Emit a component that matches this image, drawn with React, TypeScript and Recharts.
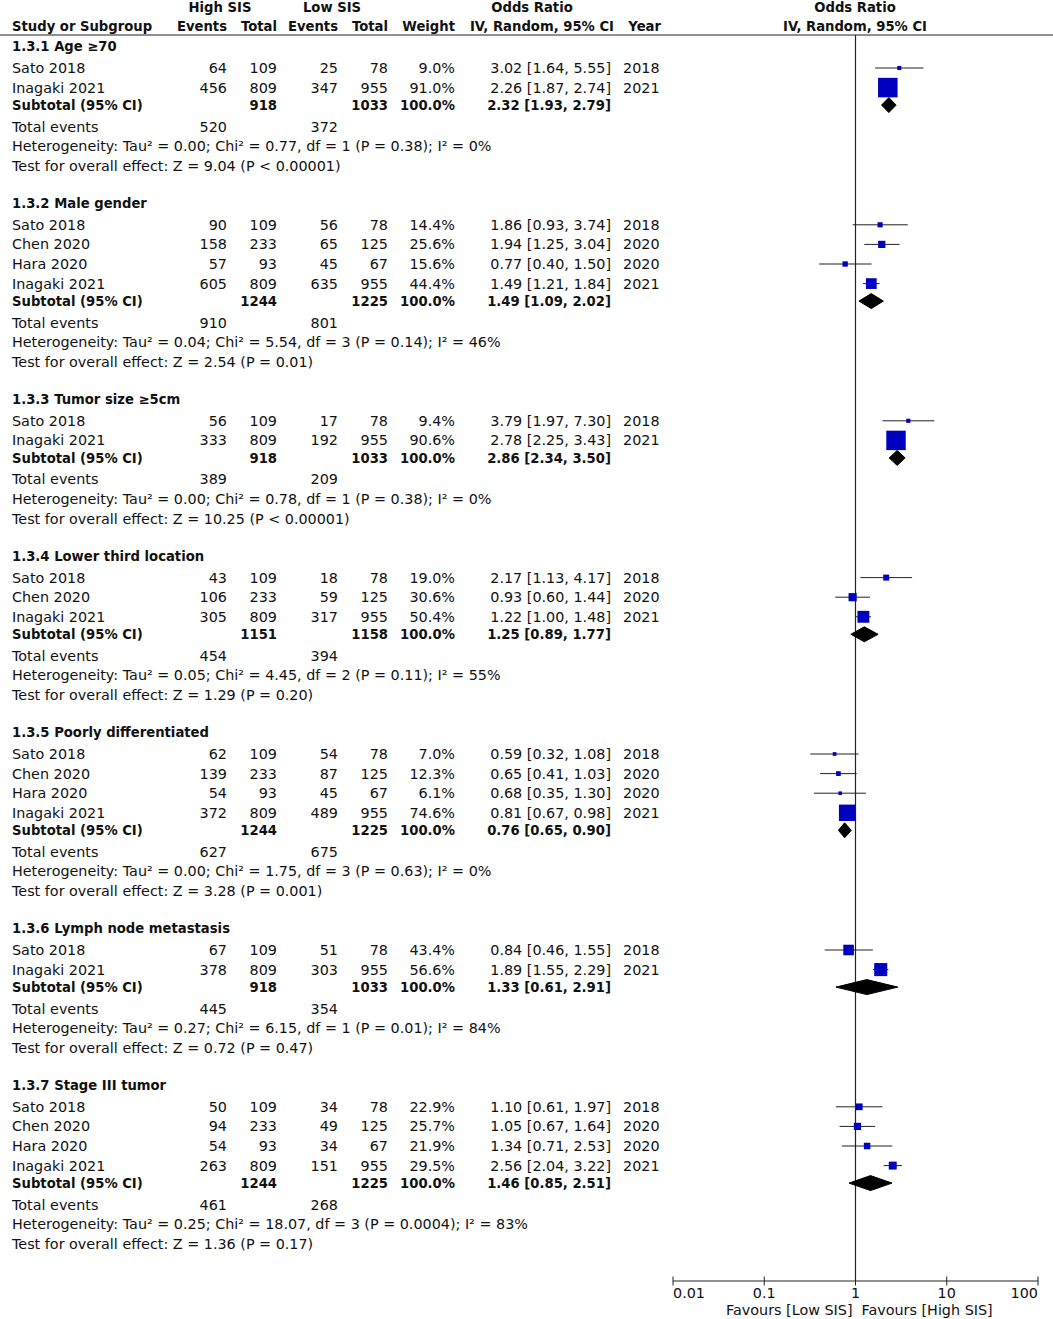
import { ScatterChart, Scatter, XAxis, YAxis, ErrorBar, ReferenceLine } from 'recharts'

const FONT = '"DejaVu Sans", Verdana, sans-serif'
const INK = '#111'
const LINE = '#222'
const BOX = '#0000c0'
const FS = 14.35
const FS_BOLD = 13.2

// [study, high events, high total, low events, low total, weight %, OR, lower, upper, year]
type Study = [string, number, number, number, number, number, number, number, number, number]

const GROUP_TITLES = [
  '1.3.1 Age ≥70',
  '1.3.2 Male gender',
  '1.3.3 Tumor size ≥5cm',
  '1.3.4 Lower third location',
  '1.3.5 Poorly differentiated',
  '1.3.6 Lymph node metastasis',
  '1.3.7 Stage III tumor',
]

const AGE: Study[] = [
  ['Sato 2018', 64, 109, 25, 78, 9.0, 3.02, 1.64, 5.55, 2018],
  ['Inagaki 2021', 456, 809, 347, 955, 91.0, 2.26, 1.87, 2.74, 2021],
]
const MALE: Study[] = [
  ['Sato 2018', 90, 109, 56, 78, 14.4, 1.86, 0.93, 3.74, 2018],
  ['Chen 2020', 158, 233, 65, 125, 25.6, 1.94, 1.25, 3.04, 2020],
  ['Hara 2020', 57, 93, 45, 67, 15.6, 0.77, 0.4, 1.5, 2020],
  ['Inagaki 2021', 605, 809, 635, 955, 44.4, 1.49, 1.21, 1.84, 2021],
]
const TUMOR_SIZE: Study[] = [
  ['Sato 2018', 56, 109, 17, 78, 9.4, 3.79, 1.97, 7.3, 2018],
  ['Inagaki 2021', 333, 809, 192, 955, 90.6, 2.78, 2.25, 3.43, 2021],
]
const LOWER_THIRD: Study[] = [
  ['Sato 2018', 43, 109, 18, 78, 19.0, 2.17, 1.13, 4.17, 2018],
  ['Chen 2020', 106, 233, 59, 125, 30.6, 0.93, 0.6, 1.44, 2020],
  ['Inagaki 2021', 305, 809, 317, 955, 50.4, 1.22, 1.0, 1.48, 2021],
]
const POORLY_DIFF: Study[] = [
  ['Sato 2018', 62, 109, 54, 78, 7.0, 0.59, 0.32, 1.08, 2018],
  ['Chen 2020', 139, 233, 87, 125, 12.3, 0.65, 0.41, 1.03, 2020],
  ['Hara 2020', 54, 93, 45, 67, 6.1, 0.68, 0.35, 1.3, 2020],
  ['Inagaki 2021', 372, 809, 489, 955, 74.6, 0.81, 0.67, 0.98, 2021],
]
const LYMPH_NODE: Study[] = [
  ['Sato 2018', 67, 109, 51, 78, 43.4, 0.84, 0.46, 1.55, 2018],
  ['Inagaki 2021', 378, 809, 303, 955, 56.6, 1.89, 1.55, 2.29, 2021],
]
const STAGE_III: Study[] = [
  ['Sato 2018', 50, 109, 34, 78, 22.9, 1.1, 0.61, 1.97, 2018],
  ['Chen 2020', 94, 233, 49, 125, 25.7, 1.05, 0.67, 1.64, 2020],
  ['Hara 2020', 54, 93, 34, 67, 21.9, 1.34, 0.71, 2.53, 2020],
  ['Inagaki 2021', 263, 809, 151, 955, 29.5, 2.56, 2.04, 3.22, 2021],
]
const GROUP_STUDIES = [AGE, MALE, TUMOR_SIZE, LOWER_THIRD, POORLY_DIFF, LYMPH_NODE, STAGE_III]

// [high total, low total, OR, lower, upper]
const SUBTOTALS: [number, number, number, number, number][] = [
  [918, 1033, 2.32, 1.93, 2.79],
  [1244, 1225, 1.49, 1.09, 2.02],
  [918, 1033, 2.86, 2.34, 3.5],
  [1151, 1158, 1.25, 0.89, 1.77],
  [1244, 1225, 0.76, 0.65, 0.9],
  [918, 1033, 1.33, 0.61, 2.91],
  [1244, 1225, 1.46, 0.85, 2.51],
]
const TOTAL_EVENTS: [number, number][] = [
  [520, 372], [910, 801], [389, 209], [454, 394], [627, 675], [445, 354], [461, 268],
]
// [tau2, chi2, df, P, I2]
const HETEROGENEITY: [string, string, number, string, number][] = [
  ['0.00', '0.77', 1, '0.38', 0],
  ['0.04', '5.54', 3, '0.14', 46],
  ['0.00', '0.78', 1, '0.38', 0],
  ['0.05', '4.45', 2, '0.11', 55],
  ['0.00', '1.75', 3, '0.63', 0],
  ['0.27', '6.15', 1, '0.01', 84],
  ['0.25', '18.07', 3, '0.0004', 83],
]
// [Z, P]
const OVERALL_EFFECT: [string, string][] = [
  ['9.04', '< 0.00001'],
  ['2.54', '= 0.01'],
  ['10.25', '< 0.00001'],
  ['1.29', '= 0.20'],
  ['3.28', '= 0.001'],
  ['0.72', '= 0.47'],
  ['1.36', '= 0.17'],
]
const X_TICKS = [0.01, 0.1, 1, 10, 100]

// column anchors of the table (px)
const COL = { name: 12, hE: 227, hT: 277, lE: 338, lT: 388, w: 455, or: 611, year: 623 }
const AXIS_Y = 1281

type Cell = { t: string; at: number; anchor?: 'start' | 'middle' | 'end'; bold?: boolean }
type TextRow = { x: number; y: number; cells: Cell[]; rule?: boolean }

const f2 = (v: number) => v.toFixed(2)
const ci = (or: number, lo: number, hi: number) => `${f2(or)} [${f2(lo)}, ${f2(hi)}]`

const textRows: TextRow[] = []
const boxes: { x: number; y: number; w: number; err: [number, number] }[] = []
const diamonds: { x: number; y: number }[][] = []

textRows.push({
  x: 1, y: 7,
  cells: [
    { t: 'High SIS', at: 220, anchor: 'middle', bold: true },
    { t: 'Low SIS', at: 332, anchor: 'middle', bold: true },
    { t: 'Odds Ratio', at: 532, anchor: 'middle', bold: true },
    { t: 'Odds Ratio', at: 855, anchor: 'middle', bold: true },
  ],
})
textRows.push({
  x: 1, y: 26, rule: true,
  cells: [
    { t: 'Study or Subgroup', at: COL.name, bold: true },
    { t: 'Events', at: COL.hE, anchor: 'end', bold: true },
    { t: 'Total', at: COL.hT, anchor: 'end', bold: true },
    { t: 'Events', at: COL.lE, anchor: 'end', bold: true },
    { t: 'Total', at: COL.lT, anchor: 'end', bold: true },
    { t: 'Weight', at: COL.w, anchor: 'end', bold: true },
    { t: 'IV, Random, 95% CI', at: 614, anchor: 'end', bold: true },
    { t: 'Year', at: 661, anchor: 'end', bold: true },
    { t: 'IV, Random, 95% CI', at: 855, anchor: 'middle', bold: true },
  ],
})

let pos = 46
GROUP_TITLES.forEach((title, g) => {
  textRows.push({ x: 1, y: pos, cells: [{ t: title, at: COL.name, bold: true }] })
  pos += 22
  GROUP_STUDIES[g].forEach((s, i) => {
    if (i > 0) pos += 19.6
    const [name, hE, hT, lE, lT, w, or, lo, hi, year] = s
    textRows.push({
      x: 1, y: pos,
      cells: [
        { t: name, at: COL.name },
        { t: String(hE), at: COL.hE, anchor: 'end' },
        { t: String(hT), at: COL.hT, anchor: 'end' },
        { t: String(lE), at: COL.lE, anchor: 'end' },
        { t: String(lT), at: COL.lT, anchor: 'end' },
        { t: `${w.toFixed(1)}%`, at: COL.w, anchor: 'end' },
        { t: ci(or, lo, hi), at: COL.or, anchor: 'end' },
        { t: String(year), at: COL.year },
      ],
    })
    boxes.push({ x: or, y: pos, w, err: [or - lo, hi - or] })
  })
  pos += 17.5
  const [sT, sL, sOr, sLo, sHi] = SUBTOTALS[g]
  textRows.push({
    x: 1, y: pos,
    cells: [
      { t: 'Subtotal (95% CI)', at: COL.name, bold: true },
      { t: String(sT), at: COL.hT, anchor: 'end', bold: true },
      { t: String(sL), at: COL.lT, anchor: 'end', bold: true },
      { t: '100.0%', at: COL.w, anchor: 'end', bold: true },
      { t: ci(sOr, sLo, sHi), at: COL.or, anchor: 'end', bold: true },
    ],
  })
  diamonds.push([
    { x: sLo, y: pos },
    { x: sOr, y: pos - 7.5 },
    { x: sHi, y: pos },
    { x: sOr, y: pos + 7.5 },
    { x: sLo, y: pos },
  ])
  pos += 21.5
  const [teH, teL] = TOTAL_EVENTS[g]
  textRows.push({
    x: 1, y: pos,
    cells: [
      { t: 'Total events', at: COL.name },
      { t: String(teH), at: COL.hE, anchor: 'end' },
      { t: String(teL), at: COL.lE, anchor: 'end' },
    ],
  })
  pos += 19.6
  const [tau, chi, df, p, i2] = HETEROGENEITY[g]
  textRows.push({
    x: 1, y: pos,
    cells: [{ t: `Heterogeneity: Tau² = ${tau}; Chi² = ${chi}, df = ${df} (P = ${p}); I² = ${i2}%`, at: COL.name }],
  })
  pos += 19.6
  const [z, pz] = OVERALL_EFFECT[g]
  textRows.push({ x: 1, y: pos, cells: [{ t: `Test for overall effect: Z = ${z} (P ${pz})`, at: COL.name }] })
  pos += 37
})

const TextRowShape = (props: any) => {
  const { cy, payload } = props
  const row = payload as TextRow
  return (
    <g>
      {row.cells.map((c, i) => (
        <text
          key={i}
          x={c.at}
          y={cy + 5}
          textAnchor={c.anchor ?? 'start'}
          fontFamily={FONT}
          fontSize={c.bold ? FS_BOLD : FS}
          fontWeight={c.bold ? 'bold' : 'normal'}
          fill={INK}
        >
          {c.t}
        </text>
      ))}
      {row.rule && <line x1={0} x2={1053} y1={cy + 9} y2={cy + 9} stroke={LINE} strokeWidth={1.2} />}
    </g>
  )
}

const BoxShape = (props: any) => {
  const { cx, cy, payload } = props
  const s = 2.4 + 0.188 * payload.w
  return <rect x={cx - s / 2} y={cy - s / 2} width={s} height={s} fill={BOX} />
}

const Empty = () => <g />

const AxisTick = (props: any) => {
  const { x, y, payload, index } = props
  const v = payload.value
  const anchor = index === 0 ? 'start' : index === X_TICKS.length - 1 ? 'end' : 'middle'
  return (
    <g>
      <line x1={x} x2={x} y1={y - 4.5} y2={y + 4.5} stroke={LINE} strokeWidth={1} />
      <text x={x} y={y + 17} textAnchor={anchor} fontFamily={FONT} fontSize={FS} fill={INK}>
        {String(v)}
      </text>
      {v === 1 && (
        <>
          <text x={x - 3} y={y + 34} textAnchor="end" fontFamily={FONT} fontSize={FS} fill={INK}>
            Favours [Low SIS]
          </text>
          <text x={x + 6} y={y + 34} textAnchor="start" fontFamily={FONT} fontSize={FS} fill={INK}>
            Favours [High SIS]
          </text>
        </>
      )}
    </g>
  )
}

export default function App() {
  return (
    <div style={{ width: 1053, height: 1319, background: '#fff' }}>
      <style>{'body{margin:0}'}</style>
      <ScatterChart width={1053} height={1319} margin={{ top: 0, right: 15, bottom: 0, left: 673 }}>
        <XAxis
          type="number"
          dataKey="x"
          scale="log"
          domain={[0.01, 100]}
          ticks={X_TICKS}
          height={38}
          axisLine={{ stroke: LINE, strokeWidth: 1 }}
          tickLine={false}
          tickSize={0}
          tickMargin={0}
          tick={<AxisTick />}
          interval={0}
        />
        <YAxis type="number" dataKey="y" domain={[0, AXIS_Y]} reversed hide />
        <ReferenceLine
          segment={[{ x: 1, y: 35 }, { x: 1, y: AXIS_Y }]}
          stroke={LINE}
          strokeWidth={1.2}
        />
        <Scatter data={textRows} shape={<TextRowShape />} isAnimationActive={false} />
        <Scatter data={boxes} shape={<BoxShape />} isAnimationActive={false}>
          <ErrorBar dataKey="err" direction="x" width={0} stroke={LINE} strokeWidth={1} />
        </Scatter>
        {diamonds.map((d, i) => (
          <Scatter
            key={i}
            data={d}
            shape={<Empty />}
            line={{ fill: '#000', stroke: '#000', strokeWidth: 1 }}
            isAnimationActive={false}
          />
        ))}
      </ScatterChart>
    </div>
  )
}
